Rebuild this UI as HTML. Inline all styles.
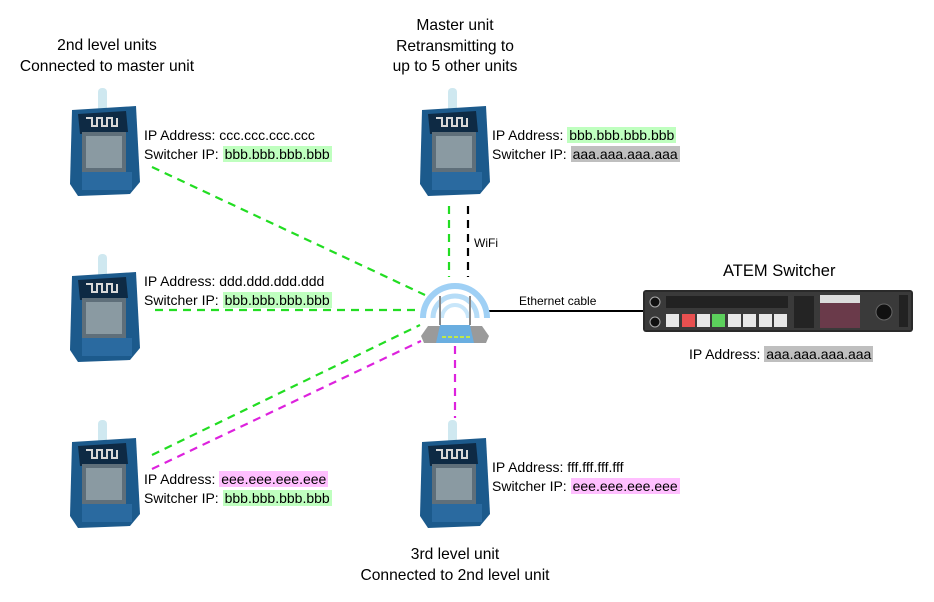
<!DOCTYPE html>
<html><head><meta charset="utf-8"><style>
body{margin:0;width:934px;height:602px;background:#fff;position:relative;overflow:hidden;font-family:"Liberation Sans",sans-serif;font-size:14px;color:#000}
.t{position:absolute;line-height:19px;white-space:nowrap}
.c{text-align:center;line-height:20.5px;font-size:15.6px}
.g{background:#bfffbf;padding:0 2px}
.m{background:#ffbfff;padding:0 2px}
.k{background:#bfbfbf;padding:0 2px}
svg{position:absolute;left:0;top:0}
</style></head><body>
<svg width="934" height="602">
<defs>
<g id="b">
<rect x="30" y="0" width="9" height="24" rx="4" fill="#cfe8f0"/>
<path d="M4 22 L68 18 L72 94 L62 106 L10 108 L2 96 Z" fill="#1c5a8c"/>
<path d="M10 26 L58 23 L60 44 L12 46 Z" fill="#0e2a44"/>
<path d="M18 30 h6 v8 h5 v-8 h5 v8 h5 v-8 h5 v8 h5 v-8" stroke="#d8d8d8" stroke-width="2" fill="none"/>
<rect x="14" y="44" width="44" height="40" fill="#5f6f7a"/>
<rect x="18" y="48" width="36" height="32" fill="#8a9aa2"/>
<rect x="14" y="84" width="50" height="18" fill="#2a6aa0"/>
</g>
</defs>
<use href="#b" x="68" y="88"/>
<use href="#b" x="68" y="254"/>
<use href="#b" x="68" y="420"/>
<use href="#b" x="418" y="88"/>
<use href="#b" x="418" y="420"/>
<g stroke-width="2.2" stroke-dasharray="8,6" fill="none">
<line x1="152" y1="167" x2="425" y2="295" stroke="#22dd22"/>
<line x1="155" y1="310" x2="420" y2="310" stroke="#22dd22"/>
<line x1="152" y1="455" x2="420" y2="325" stroke="#22dd22"/>
<line x1="152" y1="469" x2="421" y2="341" stroke="#dd22dd"/>
<line x1="449" y1="206" x2="449" y2="277" stroke="#22dd22"/>
<line x1="468" y1="206" x2="468" y2="277" stroke="#000"/>
<line x1="455" y1="346" x2="455" y2="418" stroke="#dd22dd"/>
</g>
<line x1="488" y1="311" x2="645" y2="311" stroke="#000" stroke-width="2"/>
<g fill="none">
<path d="M423 318 A32 32 0 1 1 487 318" stroke="#9fd0f5" stroke-width="6"/>
<path d="M433 318 A22 22 0 1 1 477 318" stroke="#b5dcf7" stroke-width="5"/>
<path d="M442 318 A13 13 0 1 1 468 318" stroke="#c8e6fa" stroke-width="4"/>
</g>
<line x1="440" y1="296" x2="440" y2="325" stroke="#888" stroke-width="2"/>
<line x1="470" y1="296" x2="470" y2="325" stroke="#888" stroke-width="2"/>
<path d="M428 326 L482 326 L489 336 L486 343 L424 343 L421 336 Z" fill="#9a9a9a"/>
<path d="M440 325 L470 325 L474 343 L436 343 Z" fill="#6aaee0"/>
<g fill="#bfe84a"><rect x="442" y="336" width="4" height="2"/><rect x="448" y="336" width="4" height="2"/><rect x="454" y="336" width="4" height="2"/><rect x="460" y="336" width="4" height="2"/><rect x="466" y="336" width="4" height="2"/></g>
<rect x="643" y="290" width="270" height="42" rx="3" fill="#2a2a2a"/>
<rect x="645" y="292" width="266" height="38" fill="#3a3a3a"/>
<circle cx="655" cy="302" r="5" fill="#111" stroke="#aaa"/>
<circle cx="655" cy="322" r="5" fill="#111" stroke="#aaa"/>
<rect x="666" y="296" width="122" height="12" fill="#222"/>
<g fill="#e8e8e8"><rect x="666" y="314" width="13" height="13"/><rect x="697" y="314" width="13" height="13"/><rect x="728" y="314" width="13" height="13"/><rect x="743" y="314" width="13" height="13"/><rect x="759" y="314" width="13" height="13"/><rect x="774" y="314" width="13" height="13"/></g>
<rect x="682" y="314" width="13" height="13" fill="#e85050"/>
<rect x="712" y="314" width="13" height="13" fill="#5cd05c"/>
<rect x="794" y="296" width="20" height="32" fill="#242424"/>
<rect x="820" y="295" width="40" height="33" fill="#6a3a4a"/>
<rect x="820" y="295" width="40" height="8" fill="#ddd"/>
<circle cx="884" cy="312" r="8" fill="#111" stroke="#666"/>
<rect x="899" y="295" width="9" height="32" fill="#222"/>
</svg>
<div class="t c" style="left:7px;top:36px;width:200px">2nd level units<br>Connected to master unit</div>
<div class="t c" style="left:355px;top:16px;width:200px">Master unit<br>Retransmitting to<br>up to 5 other units</div>
<div class="t c" style="left:355px;top:545px;width:200px">3rd level unit<br>Connected to 2nd level unit</div>
<div class="t" style="left:723px;top:262px;font-size:16.5px">ATEM Switcher</div>
<div class="t" style="left:689px;top:345px">IP Address: <span class="k">aaa.aaa.aaa.aaa</span></div>
<div class="t" style="left:474px;top:234px;font-size:12px">WiFi</div>
<div class="t" style="left:519px;top:292px;font-size:12px">Ethernet cable</div>
<div class="t" style="left:144px;top:126px">IP Address: ccc.ccc.ccc.ccc<br>Switcher IP: <span class="g">bbb.bbb.bbb.bbb</span></div>
<div class="t" style="left:144px;top:272px">IP Address: ddd.ddd.ddd.ddd<br>Switcher IP: <span class="g">bbb.bbb.bbb.bbb</span></div>
<div class="t" style="left:144px;top:470px">IP Address: <span class="m">eee.eee.eee.eee</span><br>Switcher IP: <span class="g">bbb.bbb.bbb.bbb</span></div>
<div class="t" style="left:492px;top:126px">IP Address: <span class="g">bbb.bbb.bbb.bbb</span><br>Switcher IP: <span class="k">aaa.aaa.aaa.aaa</span></div>
<div class="t" style="left:492px;top:458px">IP Address: fff.fff.fff.fff<br>Switcher IP: <span class="m">eee.eee.eee.eee</span></div>
</body></html>
